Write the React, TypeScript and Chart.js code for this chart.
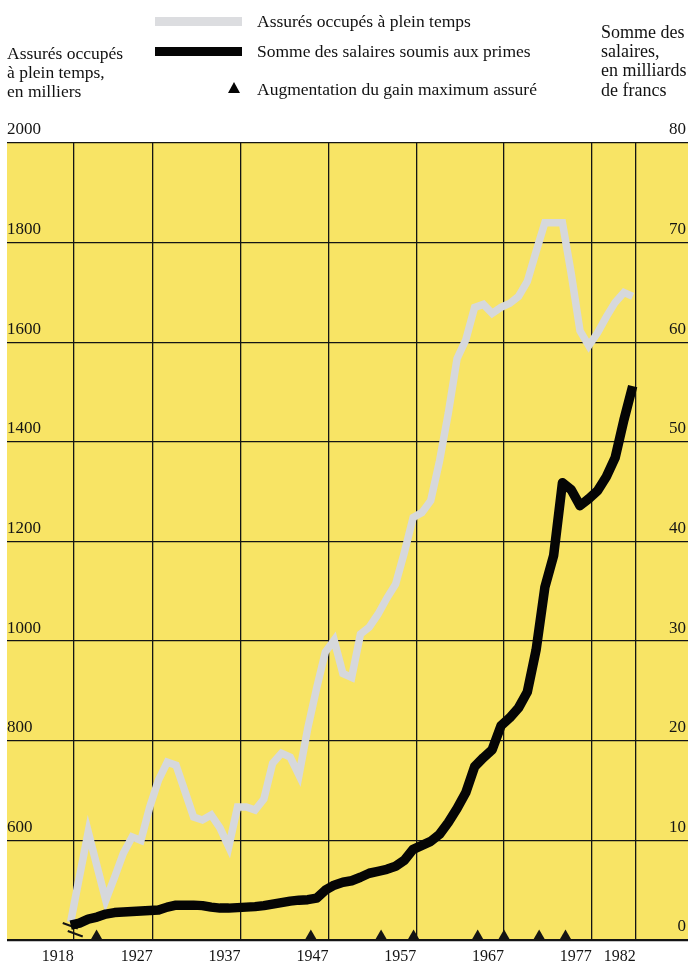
import React, { useEffect, useRef } from 'react';
import { Chart, registerables } from 'chart.js';

Chart.register(...registerables);

// Years of the annual series (each plotted a little after the year boundary line)
const YEARS = [
  1917, 1918, 1919, 1920, 1921, 1922, 1923, 1924, 1925, 1926,
  1927, 1928, 1929, 1930, 1931, 1932, 1933, 1934, 1935, 1936,
  1937, 1938, 1939, 1940, 1941, 1942, 1943, 1944, 1945, 1946,
  1947, 1948, 1949, 1950, 1951, 1952, 1953, 1954, 1955, 1956,
  1957, 1958, 1959, 1960, 1961, 1962, 1963, 1964, 1965, 1966,
  1967, 1968, 1969, 1970, 1971, 1972, 1973, 1974, 1975, 1976,
  1977, 1978, 1979, 1980, 1981,
];

// Assurés occupés à plein temps, en milliers (left axis)
const INSURED = [
  436, 527, 617, 548, 480, 526, 574, 607, 600, 667,
  721, 757, 751, 699, 647, 641, 651, 625, 587, 667,
  667, 661, 683, 755, 775, 767, 731, 825, 905, 978,
  1002, 935, 927, 1014, 1028, 1054, 1086, 1114, 1178, 1248,
  1258, 1282, 1361, 1457, 1567, 1605, 1670, 1676, 1658, 1670,
  1678, 1692, 1722, 1782, 1840, 1840, 1840, 1738, 1623, 1593,
  1619, 1651, 1680, 1700, 1692,
];

// Somme des salaires soumis aux primes, en milliards de francs (right axis)
const WAGES = [
  1.5, 1.7, 2.1, 2.3, 2.6, 2.75, 2.8, 2.85, 2.9, 2.95,
  3.0, 3.3, 3.5, 3.5, 3.5, 3.45, 3.3, 3.2, 3.2, 3.25,
  3.3, 3.35, 3.45, 3.6, 3.75, 3.9, 4.0, 4.05, 4.2, 5.0,
  5.5, 5.8, 5.95, 6.3, 6.7, 6.9, 7.1, 7.4, 8.0, 9.1,
  9.5, 9.9, 10.6, 11.8, 13.2, 14.8, 17.4, 18.3, 19.1, 21.5,
  22.3, 23.3, 24.9, 29.1, 35.4, 38.6, 45.9, 45.2, 43.6, 44.3,
  45.1, 46.5, 48.4, 52.2, 55.6,
];

// Augmentation du gain maximum assuré (dates of the increases)
const RAISE_DATES = [1920.6, 1945, 1953, 1956.7, 1964, 1967, 1971, 1974];

// Tick labels
const X_TICKS = [1918, 1927, 1937, 1947, 1957, 1967, 1977, 1982];
const LEFT_TICKS = [400, 600, 800, 1000, 1200, 1400, 1600, 1800, 2000];
const RIGHT_TICKS = [0, 10, 20, 30, 40, 50, 60, 70, 80];

const POINT_OFFSET = 0.65;
const YELLOW = '#F8E465';
const GREY = '#d6d8dc';
const INK = '#141414';
const FONT = "'Liberation Serif', 'Times New Roman', serif";

const bgPlugin = {
  id: 'yellowBg',
  beforeDraw(chart: any) {
    const { ctx, chartArea: a } = chart;
    ctx.save();
    ctx.fillStyle = YELLOW;
    ctx.fillRect(a.left, a.top, a.right - a.left, a.bottom - a.top);
    ctx.restore();
  },
};

const breakPlugin = {
  id: 'axisBreak',
  beforeDatasetsDraw(chart: any) {
    const { ctx } = chart;
    const x = chart.scales.x.getPixelForValue(X_TICKS[0]);
    const b = chart.chartArea.bottom;
    ctx.save();
    ctx.strokeStyle = INK;
    ctx.lineWidth = 2;
    ctx.beginPath();
    ctx.moveTo(x - 11, b - 17);
    ctx.lineTo(x + 4, b - 11.5);
    ctx.moveTo(x - 6, b - 9);
    ctx.lineTo(x + 9, b - 3.5);
    ctx.stroke();
    ctx.restore();
  },
};

export default function App() {
  const ref = useRef<HTMLCanvasElement | null>(null);

  useEffect(() => {
    if (!ref.current) return;
    const chart = new Chart(ref.current, {
      type: 'line',
      data: {
        datasets: [
          {
            label: 'Augmentation du gain maximum assuré',
            type: 'scatter',
            data: RAISE_DATES.map((d) => ({ x: d, y: 0.35 })),
            yAxisID: 'y2',
            pointStyle: 'triangle',
            pointRadius: 7,
            backgroundColor: INK,
            borderWidth: 0,
            clip: false,
            order: 0,
          } as any,
          {
            label: 'Somme des salaires soumis aux primes',
            data: YEARS.map((y, i) => ({ x: y + POINT_OFFSET, y: WAGES[i] })),
            yAxisID: 'y2',
            borderColor: '#050505',
            borderWidth: 9.5,
            borderJoinStyle: 'round',
            borderCapStyle: 'butt',
            pointRadius: 0,
            tension: 0,
            fill: false,
            order: 1,
          },
          {
            label: 'Assurés occupés à plein temps',
            data: YEARS.map((y, i) => ({ x: y + POINT_OFFSET, y: INSURED[i] })),
            yAxisID: 'y',
            borderColor: GREY,
            borderWidth: 7.5,
            borderJoinStyle: 'miter',
            borderCapStyle: 'butt',
            pointRadius: 0,
            tension: 0,
            fill: false,
            order: 2,
          },
        ],
      },
      options: {
        animation: false,
        responsive: false,
        devicePixelRatio: 1,
        layout: { autoPadding: false, padding: { left: 7, top: 143, right: 0, bottom: -9.2 } },
        plugins: {
          legend: { display: false },
          tooltip: { enabled: false },
          title: { display: false },
        },
        scales: {
          x: {
            type: 'linear',
            position: 'bottom',
            min: 1910.4,
            max: 1987.95,
            afterBuildTicks: (axis: any) => {
              axis.ticks = X_TICKS.map((v) => ({ value: v }));
            },
            ticks: {
              align: 'end',
              autoSkip: false,
              maxRotation: 0,
              padding: 7,
              color: INK,
              font: { family: FONT, size: 16 },
              callback: (v: any) => String(v),
            },
            grid: { color: INK, lineWidth: 1.3, drawTicks: false },
            border: { display: false },
          },
          y: {
            type: 'linear',
            position: 'left',
            min: 400,
            max: 2000,
            afterBuildTicks: (axis: any) => {
              axis.ticks = LEFT_TICKS.map((v) => ({ value: v }));
            },
            ticks: {
              mirror: true,
              padding: 0,
              labelOffset: -13,
              color: INK,
              font: { family: FONT, size: 17 },
              callback: (v: any) => (v === LEFT_TICKS[0] ? '' : String(v)),
            },
            grid: {
              color: INK,
              lineWidth: (c: any) => (c.tick && c.tick.value === LEFT_TICKS[0] ? 2.2 : 1.3),
              drawTicks: false,
            },
            border: { display: false },
          },
          y2: {
            type: 'linear',
            position: 'right',
            min: 0,
            max: 80,
            afterBuildTicks: (axis: any) => {
              axis.ticks = RIGHT_TICKS.map((v) => ({ value: v }));
            },
            ticks: {
              mirror: true,
              padding: -2,
              labelOffset: -13,
              color: INK,
              font: { family: FONT, size: 17 },
              callback: (v: any) => String(v),
            },
            grid: { display: false, drawTicks: false },
            border: { display: false },
          },
        },
      } as any,
      plugins: [bgPlugin, breakPlugin],
    });
    return () => chart.destroy();
  }, []);

  const text: React.CSSProperties = {
    position: 'absolute',
    fontFamily: FONT,
    fontSize: '17.5px',
    color: '#111',
    whiteSpace: 'nowrap',
    lineHeight: '19px',
  };

  return (
    <div style={{ position: 'absolute', left: 0, top: 0, width: 688, height: 964, background: '#fff', overflow: 'hidden' }}>
      <canvas ref={ref} width={688} height={964} style={{ position: 'absolute', left: 0, top: 0, width: 688, height: 964 }} />
      {/* Legend */}
      <div style={{ position: 'absolute', left: 155, top: 17, width: 87, height: 9, background: '#dcdde0' }} />
      <div style={{ position: 'absolute', left: 155, top: 47, width: 87, height: 9, background: '#050505' }} />
      <div
        style={{
          position: 'absolute', left: 228, top: 82, width: 0, height: 0,
          borderLeft: '6px solid transparent', borderRight: '6px solid transparent', borderBottom: '11px solid #050505',
        }}
      />
      <div style={{ ...text, left: 257, top: 11.6 }}>Assurés occupés à plein temps</div>
      <div style={{ ...text, left: 257, top: 41.6 }}>Somme des salaires soumis aux primes</div>
      <div style={{ ...text, left: 257, top: 79.6 }}>Augmentation du gain maximum assuré</div>
      {/* Axis titles */}
      <div style={{ ...text, left: 7, top: 43.6 }}>
        Assurés occupés<br />à plein temps,<br />en milliers
      </div>
      <div style={{ ...text, left: 601, top: 22.5, fontSize: '18px', lineHeight: '19.4px' }}>
        Somme des<br />salaires,<br />en milliards<br />de francs
      </div>
    </div>
  );
}
